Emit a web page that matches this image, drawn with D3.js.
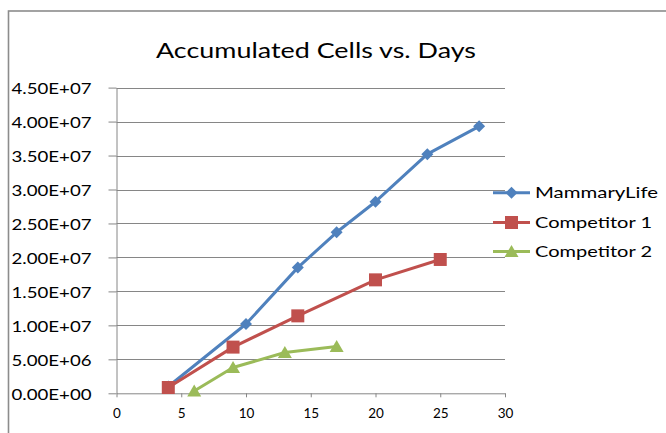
<!DOCTYPE html>
<html>
<head>
<meta charset="utf-8">
<script src="https://cdn.jsdelivr.net/npm/d3@7/dist/d3.min.js"></script>
<style>
  html, body { margin: 0; padding: 0; background: #ffffff; }
  svg { display: block; }
  text { font-family: Lato, "Open Sans", sans-serif; fill: #000; }
</style>
</head>
<body>
<svg id="chart" width="666" height="433"></svg>
<script>
// ---- data ----
const titleText = "Accumulated Cells vs. Days";
const seriesNames = ["MammaryLife", "Competitor 1", "Competitor 2"];
const mammaryDays = [4, 10, 14, 17, 20, 24, 28];
const mammaryCells = [1.0e6, 10.2e6, 18.5e6, 23.7e6, 28.2e6, 35.2e6, 39.3e6];
const comp1Days = [4, 9, 14, 20, 25];
const comp1Cells = [0.85e6, 6.8e6, 11.4e6, 16.7e6, 19.7e6];
const comp2Days = [6, 9, 13, 17];
const comp2Cells = [0.35e6, 3.8e6, 6.0e6, 6.9e6];
const xTicks = [0, 5, 10, 15, 20, 25, 30];
const yTicks = [0, 5e6, 1e7, 1.5e7, 2e7, 2.5e7, 3e7, 3.5e7, 4e7, 4.5e7];
const colors = ["#4F81BD", "#C0504D", "#9BBB59"];
const markers = ["diamond", "square", "triangle"];

const series = [
  { name: seriesNames[0], days: mammaryDays, cells: mammaryCells },
  { name: seriesNames[1], days: comp1Days, cells: comp1Cells },
  { name: seriesNames[2], days: comp2Days, cells: comp2Cells }
].map((s, i) => ({ ...s, color: colors[i], marker: markers[i],
  points: s.days.map((d, j) => ({ x: d, y: s.cells[j] })) }));

// ---- layout ----
const svg = d3.select("#chart");
const grey = "#868686";
const x = d3.scaleLinear().domain([0, 30]).range([116.5, 505]);
const y = d3.scaleLinear().domain([0, 4.5e7]).range([393.3, 87.6]);

function sci(v) {
  if (v === 0) return "0.00E+00";
  const e = Math.floor(Math.log10(v));
  const m = v / Math.pow(10, e);
  return m.toFixed(2) + "E" + (e >= 0 ? "+" : "-") + String(Math.abs(e)).padStart(2, "0");
}

// outer border
svg.append("rect")
  .attr("x", 8.5).attr("y", 11).attr("width", 800).attr("height", 600)
  .attr("fill", "none").attr("stroke", "#8c8c8c").attr("stroke-width", 1.6);

// title
svg.append("text")
  .attr("x", 316).attr("y", 58.3)
  .attr("text-anchor", "middle")
  .attr("font-size", 21)
  .attr("textLength", 320).attr("lengthAdjust", "spacingAndGlyphs")
  .text(titleText);

// gridlines
svg.append("g").selectAll("line")
  .data(yTicks.filter(t => t > 0))
  .join("line")
  .attr("x1", x(0)).attr("x2", x(30))
  .attr("y1", d => Math.round(y(d)) + 0.5).attr("y2", d => Math.round(y(d)) + 0.5)
  .attr("stroke", grey).attr("stroke-width", 1);

// y axis
const yAxis = svg.append("g")
  .attr("transform", `translate(${x(0)},0)`)
  .call(d3.axisLeft(y).tickValues(yTicks).tickFormat(sci)
    .tickSize(8).tickSizeOuter(0).tickPadding(17));
yAxis.select(".domain").attr("stroke", grey);
yAxis.selectAll(".tick line").attr("stroke", grey);
yAxis.selectAll(".tick text")
  .attr("font-size", 15).attr("dy", "0.42em")
  .attr("font-family", "Lato, 'Open Sans', sans-serif")
  .attr("fill", "#000")
  .attr("textLength", 80).attr("lengthAdjust", "spacingAndGlyphs");

// x axis
const xAxis = svg.append("g")
  .attr("transform", `translate(0,${y(0)})`)
  .call(d3.axisBottom(x).tickValues(xTicks)
    .tickSize(4).tickSizeOuter(0).tickPadding(11));
xAxis.select(".domain").attr("stroke", grey);
xAxis.selectAll(".tick line").attr("stroke", grey);
xAxis.selectAll(".tick text")
  .attr("font-size", 13.5)
  .attr("font-family", "Lato, 'Open Sans', sans-serif")
  .attr("fill", "#000");

// markers
function markerPath(type) {
  if (type === "diamond") return "M0,-6L6,0L0,6L-6,0Z";
  if (type === "square") return "M-6.5,-6.5H6.5V6.5H-6.5Z";
  return "M0,-6.5L7,5.5L-7,5.5Z";
}

const line = d3.line().x(d => x(d.x)).y(d => y(d.y));

series.forEach(s => {
  const g = svg.append("g");
  g.append("path")
    .datum(s.points)
    .attr("d", line)
    .attr("fill", "none").attr("stroke", s.color)
    .attr("stroke-width", 3).attr("stroke-linejoin", "round");
  g.selectAll("path.m")
    .data(s.points)
    .join("path").attr("class", "m")
    .attr("transform", d => `translate(${x(d.x)},${y(d.y)})`)
    .attr("d", markerPath(s.marker))
    .attr("fill", s.color);
});

// legend
const legendY = [192.7, 222.5, 251.5];
const legendLen = [123, 117, 117];
series.forEach((s, i) => {
  const g = svg.append("g").attr("transform", `translate(0,${legendY[i]})`);
  g.append("line").attr("x1", 493).attr("x2", 530).attr("y1", 0).attr("y2", 0)
    .attr("stroke", s.color).attr("stroke-width", 3);
  g.append("path").attr("transform", "translate(511.5,0)")
    .attr("d", markerPath(s.marker)).attr("fill", s.color);
  g.append("text").attr("x", 535).attr("y", 5.2)
    .attr("font-size", 16)
    .attr("textLength", legendLen[i]).attr("lengthAdjust", "spacingAndGlyphs")
    .text(s.name);
});
</script>
</body>
</html>
